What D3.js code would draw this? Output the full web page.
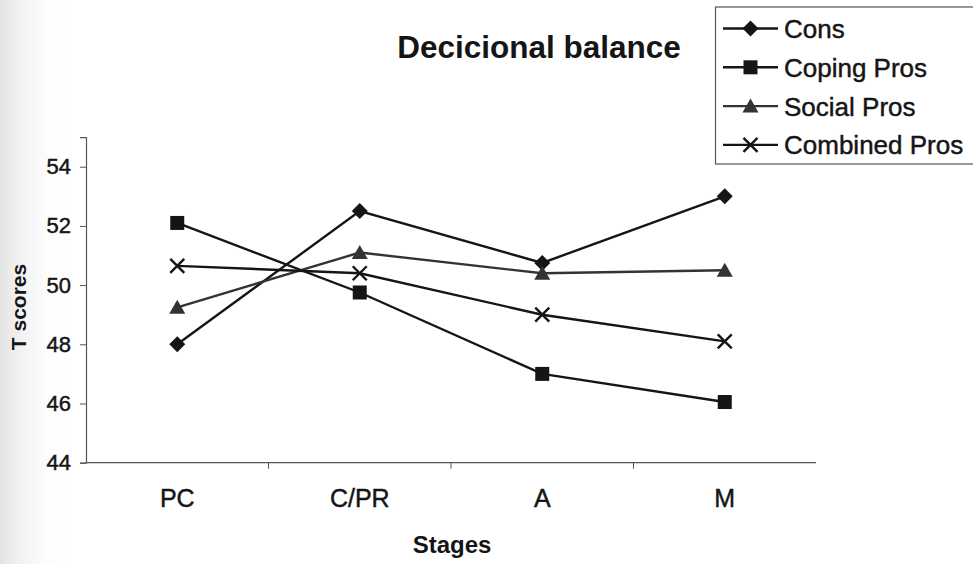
<!DOCTYPE html>
<html>
<head>
<meta charset="utf-8">
<script src="https://cdn.jsdelivr.net/npm/d3@7"></script>
<style>
  html, body { margin: 0; padding: 0; background: #fff; }
  svg { display: block; font-family: "Liberation Sans", Arial, sans-serif; }
  .ink { stroke: #151515; stroke-width: 0.45px; }
</style>
</head>
<body>
<svg id="chart" width="973" height="564"></svg>
<script>
// Stages of change and mean T scores per decisional-balance scale
const stages = ["PC", "C/PR", "A", "M"];
const cons = [48.0, 52.5, 50.75, 53.0];
const copingPros = [52.1, 49.75, 47.0, 46.05];
const socialPros = [49.25, 51.1, 50.4, 50.5];
const combinedPros = [50.65, 50.4, 49.0, 48.1];
const yTicks = [44, 46, 48, 50, 52, 54];
const seriesNames = ["Cons", "Coping Pros", "Social Pros", "Combined Pros"];

const series = [
  { name: seriesNames[0], values: cons, marker: "diamond", color: "#151515" },
  { name: seriesNames[1], values: copingPros, marker: "square", color: "#151515" },
  { name: seriesNames[2], values: socialPros, marker: "triangle", color: "#333333" },
  { name: seriesNames[3], values: combinedPros, marker: "cross", color: "#151515" }
];

const svg = d3.select("#chart");

// soft grey haze along the left edge
const defs = svg.append("defs");
const grad = defs.append("linearGradient").attr("id", "haze").attr("x1", 0).attr("x2", 1);
grad.append("stop").attr("offset", 0).attr("stop-color", "#e4e4e4");
grad.append("stop").attr("offset", 1).attr("stop-color", "#ffffff").attr("stop-opacity", 0);
svg.append("rect").attr("x", 0).attr("y", 0).attr("width", 70).attr("height", 564).attr("fill", "url(#haze)");

const x0 = 86, x1 = 816;
const x = d3.scalePoint().domain(stages).range([x0, x1]).padding(0.5);
const y = d3.scaleLinear().domain([44, 55]).range([462.7, 137.1]);

// y axis
const yAxis = svg.append("g").attr("transform", `translate(${x0},0)`)
  .call(d3.axisLeft(y).tickValues(yTicks).tickSize(6).tickPadding(9).tickFormat(d3.format("d")));
yAxis.select(".domain").attr("stroke", "#555").attr("stroke-width", 1.2);
yAxis.selectAll(".tick line").attr("stroke", "#555");
yAxis.selectAll(".tick text").attr("font-size", 22).attr("fill", "#151515").attr("class", "ink")
  .attr("font-family", "'Liberation Sans', Arial, sans-serif");

// x axis with tick marks between categories
const step = x.step();
const xAxisG = svg.append("g").attr("transform", "translate(0,462.7)");
xAxisG.append("line").attr("x1", x0).attr("x2", x1).attr("stroke", "#555").attr("stroke-width", 1.2);
xAxisG.selectAll("line.tk").data(stages.slice(0, -1)).join("line").attr("class", "tk")
  .attr("x1", d => x(d) + step / 2).attr("x2", d => x(d) + step / 2)
  .attr("y1", 0).attr("y2", 6).attr("stroke", "#555");
xAxisG.selectAll("text").data(stages).join("text").attr("class", "ink")
  .attr("x", d => x(d)).attr("y", 44).attr("text-anchor", "middle")
  .attr("font-size", 25).attr("fill", "#151515").text(d => d);

// axis titles
svg.append("text").attr("x", 452).attr("y", 553).attr("text-anchor", "middle")
  .attr("font-size", 24).attr("font-weight", "bold").attr("fill", "#151515").text("Stages");
svg.append("text").attr("transform", "translate(26,307) rotate(-90)").attr("text-anchor", "middle")
  .attr("font-size", 21).attr("font-weight", "bold").attr("fill", "#151515").text("T scores");

// chart title
svg.append("text").attr("x", 539).attr("y", 58).attr("text-anchor", "middle")
  .attr("font-size", 31.5).attr("font-weight", "bold").attr("fill", "#151515").text("Decicional balance");

// marker drawing
function drawMarker(g, type, cx, cy, color) {
  if (type === "diamond") {
    g.append("path").attr("d", `M${cx},${cy - 8}L${cx + 8},${cy}L${cx},${cy + 8}L${cx - 8},${cy}Z`)
      .attr("fill", color);
  } else if (type === "square") {
    g.append("rect").attr("x", cx - 7).attr("y", cy - 7).attr("width", 14).attr("height", 14)
      .attr("fill", color);
  } else if (type === "triangle") {
    g.append("path").attr("d", `M${cx},${cy - 7.5}L${cx + 8},${cy + 6.5}L${cx - 8},${cy + 6.5}Z`)
      .attr("fill", color);
  } else {
    g.append("path").attr("d", `M${cx - 7},${cy - 7}L${cx + 7},${cy + 7}M${cx - 7},${cy + 7}L${cx + 7},${cy - 7}`)
      .attr("stroke", color).attr("stroke-width", 2.4).attr("fill", "none");
  }
}

// series lines and markers
const line = d3.line().x((d, i) => x(stages[i])).y(d => y(d));
series.forEach(s => {
  const g = svg.append("g");
  g.append("path").attr("d", line(s.values)).attr("fill", "none")
    .attr("stroke", s.color).attr("stroke-width", 2.4);
  s.values.forEach((v, i) => drawMarker(g, s.marker, x(stages[i]), y(v), s.color));
});

// legend
const legend = svg.append("g");
legend.append("rect").attr("x", 715.5).attr("y", 7).attr("width", 270).attr("height", 157)
  .attr("fill", "#fff").attr("stroke", "#555").attr("stroke-width", 1.2);
series.forEach((s, i) => {
  const cy = 28.5 + i * 38.8;
  legend.append("line").attr("x1", 723).attr("x2", 778).attr("y1", cy).attr("y2", cy)
    .attr("stroke", s.color).attr("stroke-width", 2.4);
  drawMarker(legend, s.marker, 750.5, cy, s.color);
  legend.append("text").attr("class", "ink").attr("x", 784).attr("y", cy + 9.5).attr("font-size", 26)
    .attr("fill", "#151515").text(s.name);
});
</script>
</body>
</html>
